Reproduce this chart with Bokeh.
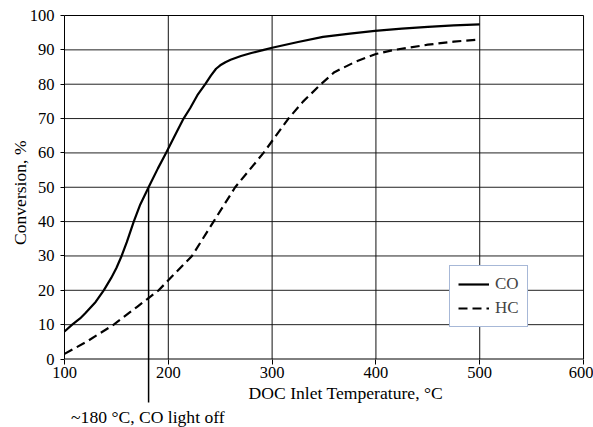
import math
from bokeh.plotting import figure
from bokeh.models import FixedTicker, Range1d, Legend, LegendItem
from bokeh.core.properties import value
from bokeh.embed import file_html
from bokeh.resources import INLINE

# ---- data ----
co_temp = [100, 107.4, 115, 120, 130, 137.8, 145, 150, 155, 160, 166.7, 173, 181, 190, 197.8, 205,
           214.7, 221, 228, 235.6, 241, 246, 250, 255, 260, 270, 280, 292, 300, 325, 349, 375,
           399, 425, 450, 475, 500]
co_conv = [8, 10, 11.8, 13.3, 16.6, 20, 23.6, 26.5, 30, 34, 40, 45, 50, 55.5, 60, 64.3,
           70, 73, 76.8, 80, 82.5, 84.5, 85.5, 86.4, 87.1, 88.2, 89.1, 90, 90.6, 92.3, 93.8, 94.7,
           95.5, 96.2, 96.7, 97.1, 97.4]

hc_temp = [100, 120, 147.4, 170, 180, 190.7, 205, 222.8, 243.6, 264.4, 291.7, 315.7, 330, 347,
           360, 380, 400, 418, 450, 475, 500]
hc_conv = [1.5, 4.8, 10, 15.2, 17.5, 20, 24.5, 30, 40, 50, 60, 70, 75, 80,
           83.5, 86.5, 88.8, 90, 91.5, 92.4, 93]

x_ticks = [100, 200, 300, 400, 500, 600]
y_ticks = [0, 10, 20, 30, 40, 50, 60, 70, 80, 90, 100]

light_off_temp = 181
light_off_conv = 50

x_title = "DOC Inlet Temperature, °C"
y_title = "Conversion, %"
note_text = "~180 °C, CO light off"

FONT = "Liberation Serif"
AX_FONT = "'Liberation Serif'"

# the frame covers the whole page; axes are fixed at the data origin
p = figure(width=593, height=427, output_backend="svg", toolbar_location=None,
           x_range=Range1d(38.34, 609.6), y_range=Range1d(-19.94, 104.37),
           min_border_left=0, min_border_right=0, min_border_top=0, min_border_bottom=0)
p.outline_line_color = None
p.background_fill_color = "white"
p.border_fill_color = "white"
p.xgrid.visible = False
p.ygrid.visible = False

xmin, xmax = x_ticks[0], x_ticks[-1]
ymin, ymax = y_ticks[0], y_ticks[-1]

# axes
p.xaxis.fixed_location = ymin
p.xaxis.ticker = FixedTicker(ticks=x_ticks)
p.xaxis.minor_tick_line_color = None
p.xaxis.major_tick_out = 5
p.xaxis.major_tick_in = 0
p.xaxis.major_label_standoff = 3
p.xaxis.axis_line_color = None
p.xaxis.major_tick_line_color = "black"
p.xaxis.major_label_text_font = AX_FONT
p.xaxis.major_label_text_font_size = "16.5px"
p.xaxis.major_label_text_color = "black"

p.yaxis.fixed_location = xmin
p.yaxis.ticker = FixedTicker(ticks=y_ticks)
p.yaxis.minor_tick_line_color = None
p.yaxis.major_tick_out = 4
p.yaxis.major_tick_in = 0
p.yaxis.major_label_standoff = 6
p.yaxis.axis_line_color = None
p.yaxis.major_tick_line_color = "black"
p.yaxis.major_label_text_font = AX_FONT
p.yaxis.major_label_text_font_size = "16.5px"
p.yaxis.major_label_text_color = "black"

# grid
inner_y = y_ticks[1:-1]
p.segment(x0=[xmin] * len(inner_y), y0=inner_y, x1=[xmax] * len(inner_y), y1=inner_y,
          line_color="#222222", line_width=1)
inner_x = x_ticks[1:-1]
p.segment(x0=inner_x, y0=[ymin] * len(inner_x), x1=inner_x, y1=[ymax] * len(inner_x),
          line_color="#111111", line_width=1)
p.line(x=[xmin, xmax, xmax, xmin, xmin], y=[ymin, ymin, ymax, ymax, ymin],
       line_color="black", line_width=1)

# light-off marker line
p.segment(x0=[light_off_temp], y0=[light_off_conv], x1=[light_off_temp], y1=[-12.66],
          line_color="black", line_width=1.5)

# series
r_co = p.line(co_temp, co_conv, line_color="black", line_width=2.2, line_join="round")
r_hc = p.line(hc_temp, hc_conv, line_color="black", line_width=2.2, line_dash="9 5")

# texts
p.text(x=[371], y=[-9.76], text=[x_title], text_font=value(FONT), text_font_size="17.6px",
       text_align="center", text_baseline="middle", text_color="black")
p.text(x=[180.3], y=[-17.0], text=[note_text], text_font=value(FONT), text_font_size="17.6px",
       text_align="center", text_baseline="middle", text_color="black")
p.text(x=[57.6], y=[48.4], text=[y_title], angle=math.pi / 2, text_font=value(FONT),
       text_font_size="17.6px", text_align="center", text_baseline="middle", text_color="black")

legend = Legend(items=[LegendItem(label="CO", renderers=[r_co]),
                       LegendItem(label="HC", renderers=[r_hc])],
                location=(449, 100), orientation="vertical",
                padding=8, spacing=4, margin=0,
                glyph_width=31, glyph_height=20, label_height=20, label_standoff=6,
                label_text_font=FONT, label_text_font_size="17px",
                border_line_color="#4f72b0", border_line_width=1,
                background_fill_color="white", background_fill_alpha=1)
p.add_layout(legend)

open("out.html", "w").write(file_html(p, INLINE))
